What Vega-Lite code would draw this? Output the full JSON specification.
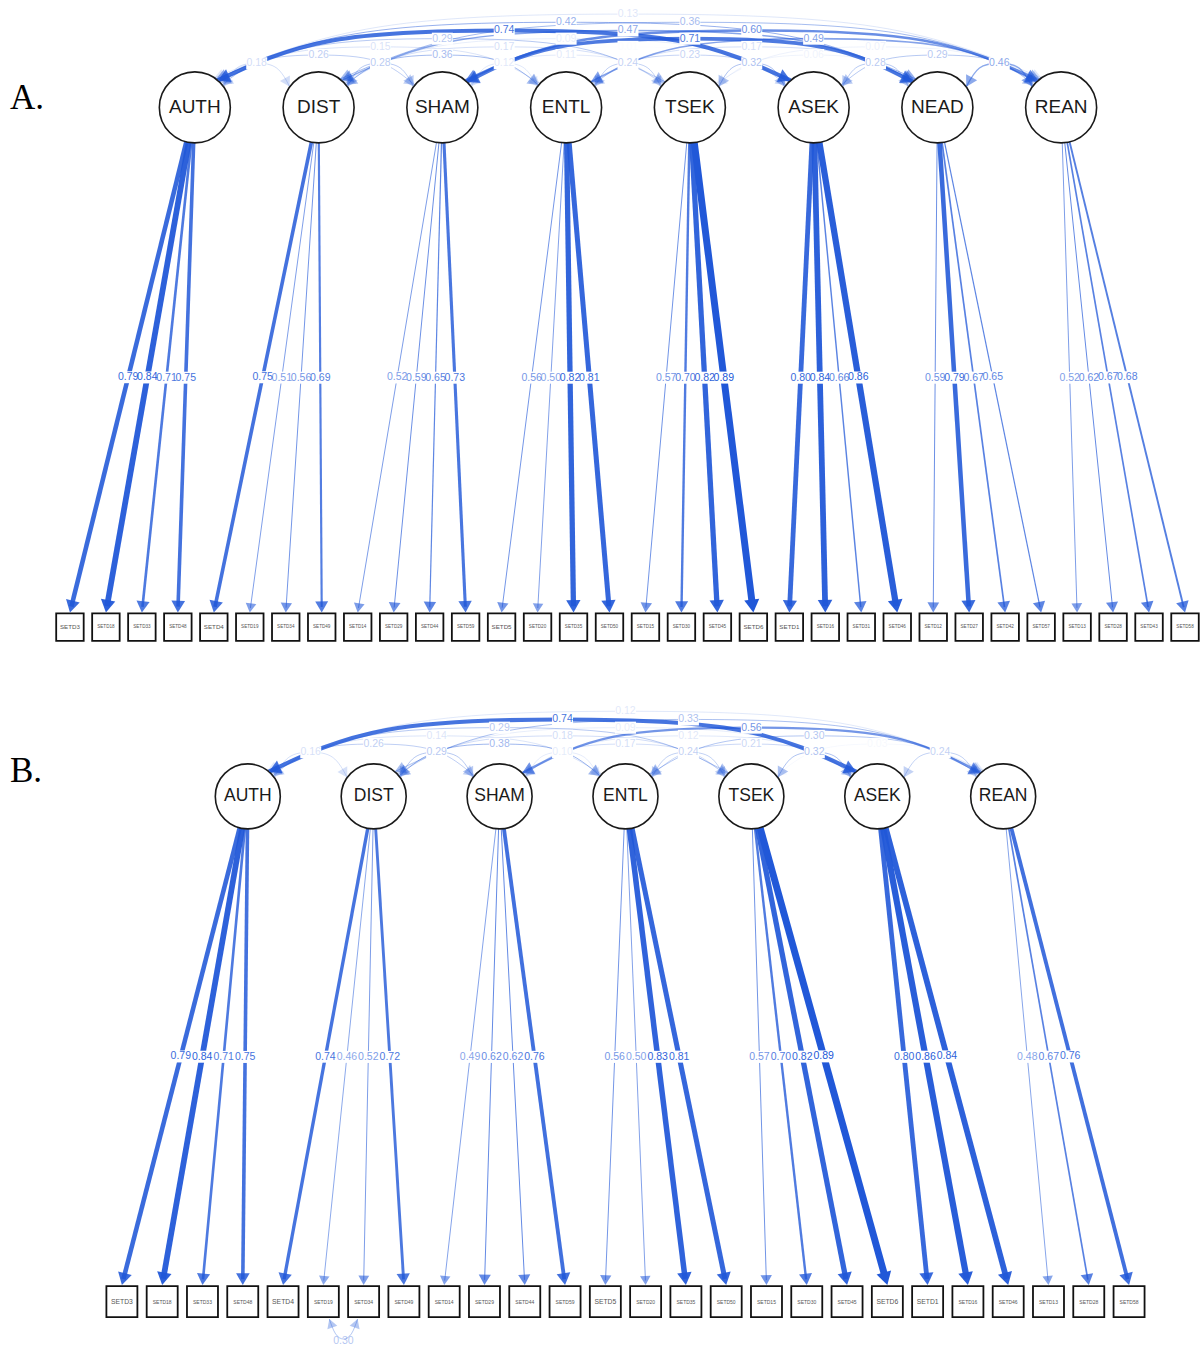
{
"$schema":"https://vega.github.io/schema/vega-lite/v6.json",
"width":1203,"height":1347,
"autosize":{"type":"fit","contains":"padding"},
"padding":0,
"background":"white",
"config":{"view":{"stroke":null}},
"datasets":{
"latent":[
{"panel":"A","name":"AUTH","k":0},{"panel":"A","name":"DIST","k":1},{"panel":"A","name":"SHAM","k":2},{"panel":"A","name":"ENTL","k":3},{"panel":"A","name":"TSEK","k":4},{"panel":"A","name":"ASEK","k":5},{"panel":"A","name":"NEAD","k":6},{"panel":"A","name":"REAN","k":7},
{"panel":"B","name":"AUTH","k":0},{"panel":"B","name":"DIST","k":1},{"panel":"B","name":"SHAM","k":2},{"panel":"B","name":"ENTL","k":3},{"panel":"B","name":"TSEK","k":4},{"panel":"B","name":"ASEK","k":5},{"panel":"B","name":"REAN","k":6}
],
"loads":[
{"panel":"A","latent":"AUTH","lk":0,"name":"SETD3","k":0,"w":0.79},
{"panel":"A","latent":"AUTH","lk":0,"name":"SETD18","k":1,"w":0.84},
{"panel":"A","latent":"AUTH","lk":0,"name":"SETD33","k":2,"w":0.71},
{"panel":"A","latent":"AUTH","lk":0,"name":"SETD48","k":3,"w":0.75},
{"panel":"A","latent":"DIST","lk":1,"name":"SETD4","k":4,"w":0.75},
{"panel":"A","latent":"DIST","lk":1,"name":"SETD19","k":5,"w":0.51},
{"panel":"A","latent":"DIST","lk":1,"name":"SETD34","k":6,"w":0.56},
{"panel":"A","latent":"DIST","lk":1,"name":"SETD49","k":7,"w":0.69},
{"panel":"A","latent":"SHAM","lk":2,"name":"SETD14","k":8,"w":0.52},
{"panel":"A","latent":"SHAM","lk":2,"name":"SETD29","k":9,"w":0.59},
{"panel":"A","latent":"SHAM","lk":2,"name":"SETD44","k":10,"w":0.65},
{"panel":"A","latent":"SHAM","lk":2,"name":"SETD59","k":11,"w":0.73},
{"panel":"A","latent":"ENTL","lk":3,"name":"SETD5","k":12,"w":0.56},
{"panel":"A","latent":"ENTL","lk":3,"name":"SETD20","k":13,"w":0.50},
{"panel":"A","latent":"ENTL","lk":3,"name":"SETD35","k":14,"w":0.82},
{"panel":"A","latent":"ENTL","lk":3,"name":"SETD50","k":15,"w":0.81},
{"panel":"A","latent":"TSEK","lk":4,"name":"SETD15","k":16,"w":0.57},
{"panel":"A","latent":"TSEK","lk":4,"name":"SETD30","k":17,"w":0.70},
{"panel":"A","latent":"TSEK","lk":4,"name":"SETD45","k":18,"w":0.82},
{"panel":"A","latent":"TSEK","lk":4,"name":"SETD6","k":19,"w":0.89},
{"panel":"A","latent":"ASEK","lk":5,"name":"SETD1","k":20,"w":0.80},
{"panel":"A","latent":"ASEK","lk":5,"name":"SETD16","k":21,"w":0.84},
{"panel":"A","latent":"ASEK","lk":5,"name":"SETD31","k":22,"w":0.66},
{"panel":"A","latent":"ASEK","lk":5,"name":"SETD46","k":23,"w":0.86},
{"panel":"A","latent":"NEAD","lk":6,"name":"SETD12","k":24,"w":0.59},
{"panel":"A","latent":"NEAD","lk":6,"name":"SETD27","k":25,"w":0.79},
{"panel":"A","latent":"NEAD","lk":6,"name":"SETD42","k":26,"w":0.67},
{"panel":"A","latent":"NEAD","lk":6,"name":"SETD57","k":27,"w":0.65},
{"panel":"A","latent":"REAN","lk":7,"name":"SETD13","k":28,"w":0.52},
{"panel":"A","latent":"REAN","lk":7,"name":"SETD28","k":29,"w":0.62},
{"panel":"A","latent":"REAN","lk":7,"name":"SETD43","k":30,"w":0.67},
{"panel":"A","latent":"REAN","lk":7,"name":"SETD58","k":31,"w":0.68},
{"panel":"B","latent":"AUTH","lk":0,"name":"SETD3","k":0,"w":0.79},
{"panel":"B","latent":"AUTH","lk":0,"name":"SETD18","k":1,"w":0.84},
{"panel":"B","latent":"AUTH","lk":0,"name":"SETD33","k":2,"w":0.71},
{"panel":"B","latent":"AUTH","lk":0,"name":"SETD48","k":3,"w":0.75},
{"panel":"B","latent":"DIST","lk":1,"name":"SETD4","k":4,"w":0.74},
{"panel":"B","latent":"DIST","lk":1,"name":"SETD19","k":5,"w":0.46},
{"panel":"B","latent":"DIST","lk":1,"name":"SETD34","k":6,"w":0.52},
{"panel":"B","latent":"DIST","lk":1,"name":"SETD49","k":7,"w":0.72},
{"panel":"B","latent":"SHAM","lk":2,"name":"SETD14","k":8,"w":0.49},
{"panel":"B","latent":"SHAM","lk":2,"name":"SETD29","k":9,"w":0.62},
{"panel":"B","latent":"SHAM","lk":2,"name":"SETD44","k":10,"w":0.62},
{"panel":"B","latent":"SHAM","lk":2,"name":"SETD59","k":11,"w":0.76},
{"panel":"B","latent":"ENTL","lk":3,"name":"SETD5","k":12,"w":0.56},
{"panel":"B","latent":"ENTL","lk":3,"name":"SETD20","k":13,"w":0.50},
{"panel":"B","latent":"ENTL","lk":3,"name":"SETD35","k":14,"w":0.83},
{"panel":"B","latent":"ENTL","lk":3,"name":"SETD50","k":15,"w":0.81},
{"panel":"B","latent":"TSEK","lk":4,"name":"SETD15","k":16,"w":0.57},
{"panel":"B","latent":"TSEK","lk":4,"name":"SETD30","k":17,"w":0.70},
{"panel":"B","latent":"TSEK","lk":4,"name":"SETD45","k":18,"w":0.82},
{"panel":"B","latent":"TSEK","lk":4,"name":"SETD6","k":19,"w":0.89},
{"panel":"B","latent":"ASEK","lk":5,"name":"SETD1","k":20,"w":0.80},
{"panel":"B","latent":"ASEK","lk":5,"name":"SETD16","k":21,"w":0.86},
{"panel":"B","latent":"ASEK","lk":5,"name":"SETD46","k":22,"w":0.84},
{"panel":"B","latent":"REAN","lk":6,"name":"SETD13","k":23,"w":0.48},
{"panel":"B","latent":"REAN","lk":6,"name":"SETD28","k":24,"w":0.67},
{"panel":"B","latent":"REAN","lk":6,"name":"SETD58","k":25,"w":0.76}
],
"cov":[
{"panel":"A","a":"AUTH","b":"DIST","ka":0,"kb":1,"w":0.18},
{"panel":"A","a":"DIST","b":"SHAM","ka":1,"kb":2,"w":0.28},
{"panel":"A","a":"SHAM","b":"ENTL","ka":2,"kb":3,"w":0.12},
{"panel":"A","a":"ENTL","b":"TSEK","ka":3,"kb":4,"w":0.24},
{"panel":"A","a":"TSEK","b":"ASEK","ka":4,"kb":5,"w":0.32},
{"panel":"A","a":"ASEK","b":"NEAD","ka":5,"kb":6,"w":0.28},
{"panel":"A","a":"NEAD","b":"REAN","ka":6,"kb":7,"w":0.46},
{"panel":"A","a":"AUTH","b":"SHAM","ka":0,"kb":2,"w":0.26},
{"panel":"A","a":"DIST","b":"ENTL","ka":1,"kb":3,"w":0.36},
{"panel":"A","a":"SHAM","b":"TSEK","ka":2,"kb":4,"w":0.11},
{"panel":"A","a":"ENTL","b":"ASEK","ka":3,"kb":5,"w":0.23},
{"panel":"A","a":"TSEK","b":"NEAD","ka":4,"kb":6,"w":0.06},
{"panel":"A","a":"ASEK","b":"REAN","ka":5,"kb":7,"w":0.29},
{"panel":"A","a":"AUTH","b":"ENTL","ka":0,"kb":3,"w":0.15},
{"panel":"A","a":"DIST","b":"TSEK","ka":1,"kb":4,"w":0.17},
{"panel":"A","a":"SHAM","b":"ASEK","ka":2,"kb":5,"w":0.01},
{"panel":"A","a":"ENTL","b":"NEAD","ka":3,"kb":6,"w":0.17},
{"panel":"A","a":"TSEK","b":"REAN","ka":4,"kb":7,"w":0.07},
{"panel":"A","a":"AUTH","b":"TSEK","ka":0,"kb":4,"w":0.29},
{"panel":"A","a":"DIST","b":"ASEK","ka":1,"kb":5,"w":0.09},
{"panel":"A","a":"SHAM","b":"NEAD","ka":2,"kb":6,"w":0.71},
{"panel":"A","a":"ENTL","b":"REAN","ka":3,"kb":7,"w":0.49},
{"panel":"A","a":"AUTH","b":"ASEK","ka":0,"kb":5,"w":0.74},
{"panel":"A","a":"DIST","b":"NEAD","ka":1,"kb":6,"w":0.47},
{"panel":"A","a":"SHAM","b":"REAN","ka":2,"kb":7,"w":0.60},
{"panel":"A","a":"AUTH","b":"NEAD","ka":0,"kb":6,"w":0.42},
{"panel":"A","a":"DIST","b":"REAN","ka":1,"kb":7,"w":0.36},
{"panel":"A","a":"AUTH","b":"REAN","ka":0,"kb":7,"w":0.13},
{"panel":"B","a":"AUTH","b":"DIST","ka":0,"kb":1,"w":0.16},
{"panel":"B","a":"DIST","b":"SHAM","ka":1,"kb":2,"w":0.29},
{"panel":"B","a":"SHAM","b":"ENTL","ka":2,"kb":3,"w":0.10},
{"panel":"B","a":"ENTL","b":"TSEK","ka":3,"kb":4,"w":0.24},
{"panel":"B","a":"TSEK","b":"ASEK","ka":4,"kb":5,"w":0.32},
{"panel":"B","a":"ASEK","b":"REAN","ka":5,"kb":6,"w":0.24},
{"panel":"B","a":"AUTH","b":"SHAM","ka":0,"kb":2,"w":0.26},
{"panel":"B","a":"DIST","b":"ENTL","ka":1,"kb":3,"w":0.38},
{"panel":"B","a":"SHAM","b":"TSEK","ka":2,"kb":4,"w":0.17},
{"panel":"B","a":"ENTL","b":"ASEK","ka":3,"kb":5,"w":0.21},
{"panel":"B","a":"TSEK","b":"REAN","ka":4,"kb":6,"w":0.03},
{"panel":"B","a":"AUTH","b":"ENTL","ka":0,"kb":3,"w":0.14},
{"panel":"B","a":"DIST","b":"TSEK","ka":1,"kb":4,"w":0.18},
{"panel":"B","a":"SHAM","b":"ASEK","ka":2,"kb":5,"w":0.12},
{"panel":"B","a":"ENTL","b":"REAN","ka":3,"kb":6,"w":0.30},
{"panel":"B","a":"AUTH","b":"TSEK","ka":0,"kb":4,"w":0.29},
{"panel":"B","a":"DIST","b":"ASEK","ka":1,"kb":5,"w":0.09},
{"panel":"B","a":"SHAM","b":"REAN","ka":2,"kb":6,"w":0.56},
{"panel":"B","a":"AUTH","b":"ASEK","ka":0,"kb":5,"w":0.74},
{"panel":"B","a":"DIST","b":"REAN","ka":1,"kb":6,"w":0.33},
{"panel":"B","a":"AUTH","b":"REAN","ka":0,"kb":6,"w":0.12}
],
"resid":[{"panel":"B","a":"SETD19","b":"SETD34","ka":5,"kb":6,"w":0.30}],
"letters":[{"panel":"A","label":"A."},{"panel":"B","label":"B."}]
},
"layer":[
{
"data":{"name":"cov"},
"transform":[
{"calculate":"datum.panel=='A'?195+123.86*datum.ka:248+126*datum.ka","as":"xa"},
{"calculate":"datum.panel=='A'?195+123.86*datum.kb:248+126*datum.kb","as":"xb"},
{"calculate":"datum.panel=='A'?107.5:797","as":"yc"},
{"calculate":"datum.panel=='A'?35.5:32.5","as":"r"},
{"calculate":"datum.kb-datum.ka","as":"span"},
{"calculate":"(58-3.5*datum.span)*PI/180","as":"phi"},
{"calculate":"datum.xa+datum.r*sin(datum.phi)","as":"q0"},
{"calculate":"datum.xb-datum.r*sin(datum.phi)","as":"q4"},
{"calculate":"datum.yc-datum.r*cos(datum.phi)","as":"ey"},
{"calculate":"datum.yc-36-8.2*datum.span","as":"yap"},
{"calculate":"datum.q4-datum.q0","as":"W"},
{"calculate":"datum.ey-datum.yap","as":"b"},
{"calculate":"datum.q0+0.2*datum.W","as":"q1"},
{"calculate":"(datum.xa+datum.xb)/2","as":"q2"},
{"calculate":"datum.q4-0.2*datum.W","as":"q3"},
{"calculate":"max(1,1.2+(datum.w-0.45)*10)","as":"sw"},
{"calculate":"clamp(datum.w/0.89,0,1)","as":"op"},
{"calculate":"datum.panel+datum.a+datum.b","as":"id"},
{"fold":["q0","q1","q2","q3","q4"],"as":["key","px"]},
{"calculate":"datum.key=='q2'?datum.yap:((datum.key=='q1'||datum.key=='q3')?datum.ey-0.8*datum.b:datum.ey)","as":"py"}
],
"mark":{"type":"line","interpolate":"natural","color":"#2158d8"},
"encoding":{
"x":{"field":"px","type":"quantitative","scale":{"domain":[0,1203],"nice":false,"zero":false},"axis":null},
"y":{"field":"py","type":"quantitative","scale":{"domain":[0,1347],"nice":false,"zero":false,"reverse":true},"axis":null},
"detail":{"field":"id"},
"order":{"field":"key","type":"ordinal"},
"strokeWidth":{"field":"sw","type":"quantitative","scale":null},
"opacity":{"field":"op","type":"quantitative","scale":null}
}
},
{
"data":{"name":"loads"},
"transform":[
{"calculate":"datum.panel=='A'?195+123.86*datum.lk:248+126*datum.lk","as":"lx"},
{"calculate":"datum.panel=='A'?107.5:797","as":"ly"},
{"calculate":"datum.panel=='A'?35.5:32.5","as":"r"},
{"calculate":"datum.panel=='A'?70+36*datum.k:122+40.32*datum.k","as":"x"},
{"calculate":"datum.panel=='A'?613:1286","as":"bt"},
{"calculate":"datum.x-datum.lx","as":"dx"},
{"calculate":"datum.bt-datum.ly","as":"dy"},
{"calculate":"sqrt(datum.dx*datum.dx+datum.dy*datum.dy)","as":"len"},
{"calculate":"datum.lx+datum.r*datum.dx/datum.len","as":"sx"},
{"calculate":"datum.ly+datum.r*datum.dy/datum.len","as":"sy"},
{"calculate":"110+120*clamp((datum.w-0.5)/0.4,0,1)","as":"asz"},
{"calculate":"0.433*sqrt(datum.asz)","as":"ah"},
{"calculate":"datum.x-datum.ah*datum.dx/datum.len","as":"ax"},
{"calculate":"datum.bt-datum.ah*datum.dy/datum.len","as":"ay"},
{"calculate":"max(1,1.2+(datum.w-0.65)*24)","as":"sw"},
{"calculate":"clamp(datum.w/0.89,0,1)","as":"op"}
],
"mark":{"type":"rule","color":"#2158d8"},
"encoding":{
"x":{"field":"sx","type":"quantitative","scale":{"domain":[0,1203],"nice":false,"zero":false},"axis":null},
"y":{"field":"sy","type":"quantitative","scale":{"domain":[0,1347],"nice":false,"zero":false,"reverse":true},"axis":null},
"x2":{"field":"ax"},
"y2":{"field":"ay"},
"strokeWidth":{"field":"sw","type":"quantitative","scale":null},
"opacity":{"field":"op","type":"quantitative","scale":null}
}
},
{
"data":{"name":"latent"},
"transform":[
{"calculate":"datum.panel=='A'?195+123.86*datum.k:248+126*datum.k","as":"lx"},
{"calculate":"datum.panel=='A'?107.5:797","as":"ly"},
{"calculate":"datum.panel=='A'?5041:4225","as":"csz"}
],
"mark":{"type":"point","shape":"circle","filled":true,"fill":"white","stroke":"#1a1a1a","strokeWidth":1.6,"opacity":1},
"encoding":{
"x":{"field":"lx","type":"quantitative","scale":{"domain":[0,1203],"nice":false,"zero":false},"axis":null},
"y":{"field":"ly","type":"quantitative","scale":{"domain":[0,1347],"nice":false,"zero":false,"reverse":true},"axis":null},
"size":{"field":"csz","type":"quantitative","scale":null}
}
},
{
"data":{"name":"loads"},
"transform":[
{"calculate":"datum.panel=='A'?195+123.86*datum.lk:248+126*datum.lk","as":"lx"},
{"calculate":"datum.panel=='A'?107.5:797","as":"ly"},
{"calculate":"datum.panel=='A'?35.5:32.5","as":"r"},
{"calculate":"datum.panel=='A'?70+36*datum.k:122+40.32*datum.k","as":"x"},
{"calculate":"datum.panel=='A'?627.5:1302.5","as":"y"},
{"calculate":"datum.panel=='A'?613:1286","as":"bt"},
{"calculate":"datum.x-datum.lx","as":"dx"},
{"calculate":"datum.bt-datum.ly","as":"dy"},
{"calculate":"sqrt(datum.dx*datum.dx+datum.dy*datum.dy)","as":"len"},
{"calculate":"datum.lx+datum.r*datum.dx/datum.len","as":"sx"},
{"calculate":"datum.ly+datum.r*datum.dy/datum.len","as":"sy"},
{"calculate":"110+120*clamp((datum.w-0.5)/0.4,0,1)","as":"asz"},
{"calculate":"0.433*sqrt(datum.asz)","as":"ah"},
{"calculate":"datum.x-datum.ah*datum.dx/datum.len","as":"ax"},
{"calculate":"datum.bt-datum.ah*datum.dy/datum.len","as":"ay"},
{"calculate":"atan2(-datum.dx,datum.dy)*180/PI","as":"ang"},
{"calculate":"clamp(datum.w/0.89,0,1)","as":"op"},
{"calculate":"(datum.sx+datum.x)/2","as":"mx"},
{"calculate":"(datum.sy+datum.bt)/2","as":"my"},
{"calculate":"datum.mx-10.5","as":"bx0"},
{"calculate":"datum.mx+10.5","as":"bx1"},
{"calculate":"datum.my-6","as":"by0"},
{"calculate":"datum.my+6","as":"by1"},
{"calculate":"datum.panel=='A'?756:961","as":"bsz"},
{"calculate":"length(datum.name)<6?(datum.panel=='A'?6.2:6.8):(datum.panel=='A'?4.6:5)","as":"fs"}
],
"layer":[
{
"mark":{"type":"point","shape":"square","filled":true,"fill":"white","stroke":"#111111","strokeWidth":1.8,"opacity":1},
"encoding":{
"x":{"field":"x","type":"quantitative","scale":{"domain":[0,1203],"nice":false,"zero":false},"axis":null},
"y":{"field":"y","type":"quantitative","scale":{"domain":[0,1347],"nice":false,"zero":false,"reverse":true},"axis":null},
"size":{"field":"bsz","type":"quantitative","scale":null}
}
},
{
"mark":{"type":"text","font":"Liberation Sans","color":"#555555","baseline":"middle","align":"center"},
"encoding":{
"x":{"field":"x","type":"quantitative","scale":{"domain":[0,1203],"nice":false,"zero":false},"axis":null},
"y":{"field":"y","type":"quantitative","scale":{"domain":[0,1347],"nice":false,"zero":false,"reverse":true},"axis":null},
"text":{"field":"name"},
"size":{"field":"fs","type":"quantitative","scale":null}
}
},
{
"mark":{"type":"point","shape":"triangle-down","filled":true,"color":"#2158d8"},
"encoding":{
"x":{"field":"ax","type":"quantitative","scale":{"domain":[0,1203],"nice":false,"zero":false},"axis":null},
"y":{"field":"ay","type":"quantitative","scale":{"domain":[0,1347],"nice":false,"zero":false,"reverse":true},"axis":null},
"size":{"field":"asz","type":"quantitative","scale":null},
"angle":{"field":"ang","type":"quantitative","scale":null},
"opacity":{"field":"op","type":"quantitative","scale":null}
}
},
{
"mark":{"type":"rect","color":"white","opacity":1},
"encoding":{
"x":{"field":"bx0","type":"quantitative","scale":{"domain":[0,1203],"nice":false,"zero":false},"axis":null},
"y":{"field":"by0","type":"quantitative","scale":{"domain":[0,1347],"nice":false,"zero":false,"reverse":true},"axis":null},
"x2":{"field":"bx1"},
"y2":{"field":"by1"}
}
},
{
"mark":{"type":"text","font":"Liberation Sans","fontSize":10.5,"color":"#2158d8","baseline":"middle","align":"center"},
"encoding":{
"x":{"field":"mx","type":"quantitative","scale":{"domain":[0,1203],"nice":false,"zero":false},"axis":null},
"y":{"field":"my","type":"quantitative","scale":{"domain":[0,1347],"nice":false,"zero":false,"reverse":true},"axis":null},
"text":{"field":"w","type":"quantitative","format":".2f"},
"opacity":{"field":"op","type":"quantitative","scale":null}
}
}
]
},
{
"data":{"name":"cov"},
"transform":[
{"calculate":"datum.panel=='A'?195+123.86*datum.ka:248+126*datum.ka","as":"xa"},
{"calculate":"datum.panel=='A'?195+123.86*datum.kb:248+126*datum.kb","as":"xb"},
{"calculate":"datum.panel=='A'?107.5:797","as":"yc"},
{"calculate":"datum.panel=='A'?35.5:32.5","as":"r"},
{"calculate":"datum.kb-datum.ka","as":"span"},
{"calculate":"(58-3.5*datum.span)*PI/180","as":"phi"},
{"calculate":"datum.xa+datum.r*sin(datum.phi)","as":"q0"},
{"calculate":"datum.xb-datum.r*sin(datum.phi)","as":"q4"},
{"calculate":"datum.yc-datum.r*cos(datum.phi)","as":"ey"},
{"calculate":"datum.yc-36-8.2*datum.span","as":"yap"},
{"calculate":"datum.q4-datum.q0","as":"W"},
{"calculate":"datum.ey-datum.yap","as":"b"},
{"calculate":"(datum.xa+datum.xb)/2","as":"q2"},
{"calculate":"clamp(datum.w/0.89,0,1)","as":"op"},
{"calculate":"0.2*datum.W","as":"adx"},
{"calculate":"1.0*datum.b","as":"ady"},
{"calculate":"sqrt(datum.adx*datum.adx+datum.ady*datum.ady)","as":"alen"},
{"calculate":"110+80*clamp(datum.w/0.74,0,1)","as":"asz"},
{"calculate":"0.433*sqrt(datum.asz)","as":"ah"},
{"calculate":"datum.q0+datum.ah*datum.adx/datum.alen","as":"sax"},
{"calculate":"datum.q4-datum.ah*datum.adx/datum.alen","as":"eax"},
{"calculate":"datum.ey-datum.ah*datum.ady/datum.alen","as":"aay"},
{"calculate":"atan2(datum.adx,datum.ady)*180/PI","as":"sang"},
{"calculate":"-datum.sang","as":"eang"},
{"calculate":"datum.q2-10.5","as":"bx0"},
{"calculate":"datum.q2+10.5","as":"bx1"},
{"calculate":"datum.yap-6","as":"by0"},
{"calculate":"datum.yap+6","as":"by1"}
],
"layer":[
{
"mark":{"type":"point","shape":"triangle-down","filled":true,"color":"#2158d8"},
"encoding":{
"x":{"field":"sax","type":"quantitative","scale":{"domain":[0,1203],"nice":false,"zero":false},"axis":null},
"y":{"field":"aay","type":"quantitative","scale":{"domain":[0,1347],"nice":false,"zero":false,"reverse":true},"axis":null},
"size":{"field":"asz","type":"quantitative","scale":null},
"angle":{"field":"sang","type":"quantitative","scale":null},
"opacity":{"field":"op","type":"quantitative","scale":null}
}
},
{
"mark":{"type":"point","shape":"triangle-down","filled":true,"color":"#2158d8"},
"encoding":{
"x":{"field":"eax","type":"quantitative","scale":{"domain":[0,1203],"nice":false,"zero":false},"axis":null},
"y":{"field":"aay","type":"quantitative","scale":{"domain":[0,1347],"nice":false,"zero":false,"reverse":true},"axis":null},
"size":{"field":"asz","type":"quantitative","scale":null},
"angle":{"field":"eang","type":"quantitative","scale":null},
"opacity":{"field":"op","type":"quantitative","scale":null}
}
},
{
"mark":{"type":"rect","color":"white","opacity":1},
"encoding":{
"x":{"field":"bx0","type":"quantitative","scale":{"domain":[0,1203],"nice":false,"zero":false},"axis":null},
"y":{"field":"by0","type":"quantitative","scale":{"domain":[0,1347],"nice":false,"zero":false,"reverse":true},"axis":null},
"x2":{"field":"bx1"},
"y2":{"field":"by1"}
}
},
{
"mark":{"type":"text","font":"Liberation Sans","fontSize":10.5,"color":"#2158d8","baseline":"middle","align":"center"},
"encoding":{
"x":{"field":"q2","type":"quantitative","scale":{"domain":[0,1203],"nice":false,"zero":false},"axis":null},
"y":{"field":"yap","type":"quantitative","scale":{"domain":[0,1347],"nice":false,"zero":false,"reverse":true},"axis":null},
"text":{"field":"w","type":"quantitative","format":".2f"},
"opacity":{"field":"op","type":"quantitative","scale":null}
}
}
]
},
{
"data":{"name":"latent"},
"transform":[
{"calculate":"datum.panel=='A'?195+123.86*datum.k:248+126*datum.k","as":"lx"},
{"calculate":"datum.panel=='A'?107.5:797","as":"ly"},
{"calculate":"datum.panel=='A'?19:17.5","as":"fs"}
],
"mark":{"type":"text","font":"Liberation Sans","color":"#1a1a1a","baseline":"middle","align":"center"},
"encoding":{
"x":{"field":"lx","type":"quantitative","scale":{"domain":[0,1203],"nice":false,"zero":false},"axis":null},
"y":{"field":"ly","type":"quantitative","scale":{"domain":[0,1347],"nice":false,"zero":false,"reverse":true},"axis":null},
"text":{"field":"name"},
"size":{"field":"fs","type":"quantitative","scale":null}
}
},
{
"data":{"name":"resid"},
"transform":[
{"calculate":"122+40.32*datum.ka","as":"xa"},
{"calculate":"122+40.32*datum.kb","as":"xb"},
{"calculate":"datum.xa+6","as":"q0"},
{"calculate":"datum.xb-6","as":"q4"},
{"calculate":"1320","as":"ey"},
{"calculate":"1340","as":"yb"},
{"calculate":"datum.q4-datum.q0","as":"W"},
{"calculate":"datum.q0+0.22*datum.W","as":"q1"},
{"calculate":"(datum.xa+datum.xb)/2","as":"q2"},
{"calculate":"datum.q4-0.22*datum.W","as":"q3"},
{"calculate":"clamp(datum.w/0.89,0,1)","as":"op"},
{"calculate":"0.22*datum.W","as":"adx"},
{"calculate":"0.888*(datum.yb-datum.ey)","as":"ady"},
{"calculate":"sqrt(datum.adx*datum.adx+datum.ady*datum.ady)","as":"alen"},
{"calculate":"110","as":"asz"},
{"calculate":"0.433*sqrt(datum.asz)","as":"ah"},
{"calculate":"datum.q0+datum.ah*datum.adx/datum.alen","as":"sax"},
{"calculate":"datum.q4-datum.ah*datum.adx/datum.alen","as":"eax"},
{"calculate":"datum.ey+datum.ah*datum.ady/datum.alen","as":"aay"},
{"calculate":"atan2(datum.adx,-datum.ady)*180/PI","as":"sang"},
{"calculate":"atan2(-datum.adx,-datum.ady)*180/PI","as":"eang"},
{"calculate":"datum.yb+2","as":"ly"}
],
"layer":[
{
"transform":[
{"fold":["q0","q1","q2","q3","q4"],"as":["key","px"]},
{"calculate":"datum.key=='q2'?datum.yb:((datum.key=='q1'||datum.key=='q3')?datum.ey+0.74*(datum.yb-datum.ey):datum.ey)","as":"py"}
],
"mark":{"type":"line","interpolate":"natural","color":"#2158d8","strokeWidth":1},
"encoding":{
"x":{"field":"px","type":"quantitative","scale":{"domain":[0,1203],"nice":false,"zero":false},"axis":null},
"y":{"field":"py","type":"quantitative","scale":{"domain":[0,1347],"nice":false,"zero":false,"reverse":true},"axis":null},
"order":{"field":"key","type":"ordinal"},
"opacity":{"field":"op","type":"quantitative","scale":null}
}
},
{
"mark":{"type":"point","shape":"triangle-down","filled":true,"color":"#2158d8"},
"encoding":{
"x":{"field":"sax","type":"quantitative","scale":{"domain":[0,1203],"nice":false,"zero":false},"axis":null},
"y":{"field":"aay","type":"quantitative","scale":{"domain":[0,1347],"nice":false,"zero":false,"reverse":true},"axis":null},
"size":{"field":"asz","type":"quantitative","scale":null},
"angle":{"field":"sang","type":"quantitative","scale":null},
"opacity":{"field":"op","type":"quantitative","scale":null}
}
},
{
"mark":{"type":"point","shape":"triangle-down","filled":true,"color":"#2158d8"},
"encoding":{
"x":{"field":"eax","type":"quantitative","scale":{"domain":[0,1203],"nice":false,"zero":false},"axis":null},
"y":{"field":"aay","type":"quantitative","scale":{"domain":[0,1347],"nice":false,"zero":false,"reverse":true},"axis":null},
"size":{"field":"asz","type":"quantitative","scale":null},
"angle":{"field":"eang","type":"quantitative","scale":null},
"opacity":{"field":"op","type":"quantitative","scale":null}
}
},
{
"mark":{"type":"text","font":"Liberation Sans","fontSize":10.5,"color":"#2158d8","baseline":"middle","align":"center"},
"encoding":{
"x":{"field":"q2","type":"quantitative","scale":{"domain":[0,1203],"nice":false,"zero":false},"axis":null},
"y":{"field":"ly","type":"quantitative","scale":{"domain":[0,1347],"nice":false,"zero":false,"reverse":true},"axis":null},
"text":{"field":"w","type":"quantitative","format":".2f"},
"opacity":{"field":"op","type":"quantitative","scale":null}
}
}
]
},
{
"data":{"name":"letters"},
"transform":[
{"calculate":"10","as":"tx"},
{"calculate":"datum.panel=='A'?109:783","as":"ty"}
],
"mark":{"type":"text","font":"Liberation Serif","fontSize":35,"color":"#000000","baseline":"alphabetic","align":"left"},
"encoding":{
"x":{"field":"tx","type":"quantitative","scale":{"domain":[0,1203],"nice":false,"zero":false},"axis":null},
"y":{"field":"ty","type":"quantitative","scale":{"domain":[0,1347],"nice":false,"zero":false,"reverse":true},"axis":null},
"text":{"field":"label"}
}
}
]
}
